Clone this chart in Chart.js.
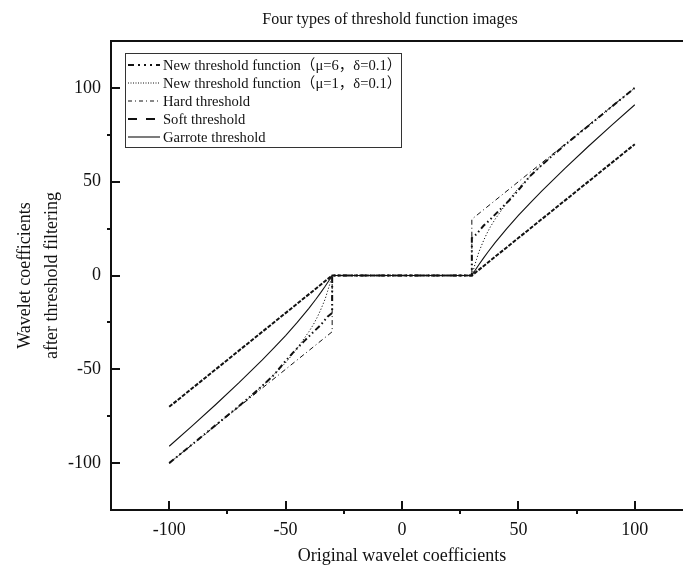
<!DOCTYPE html>
<html>
<head>
<meta charset="utf-8">
<script src="https://cdn.jsdelivr.net/npm/chart.js@4.4.1/dist/chart.umd.min.js"></script>
<style>
  html, body { margin: 0; padding: 0; background: #ffffff; overflow: hidden; }
  canvas { display: block; }
</style>
</head>
<body>
<canvas id="c" width="705" height="573"></canvas>
<script>
// ---- data ----
const chartTitle = 'Four types of threshold function images';
const xTitle = 'Original wavelet coefficients';
const yTitle = ['Wavelet coefficients', 'after threshold filtering'];
const majorTicks = [-100, -50, 0, 50, 100];
const minorTicks = [-75, -25, 25, 75];

const seriesLabels = [
  'New threshold function（μ=6，δ=0.1）',
  'New threshold function（μ=1，δ=0.1）',
  'Hard threshold',
  'Soft threshold',
  'Garrote threshold'
];

// New threshold function, mu = 6
const newMu6X = [-100, -90, -80, -70, -65, -60, -55, -50, -46, -42, -38, -35, -32, -30, -30, 30, 30, 32, 35, 38, 42, 46, 50, 55, 60, 65, 70, 80, 90, 100];
const newMu6Y = [-100, -89.9, -79.7, -69.6, -64.3, -58.8, -53, -45.5, -40, -35, -30, -26.5, -22, -20, 0, 0, 20, 22, 26.5, 30, 35, 40, 45.5, 53, 58.8, 64.3, 69.6, 79.7, 89.9, 100];

// New threshold function, mu = 1
const newMu1X = [-100, -90, -80, -70, -66, -62, -58, -54, -50, -47, -44, -42, -40, -38, -36.5, -35, -34, -33, -32, -31, -30.5, -30, 30, 30.5, 31, 32, 33, 34, 35, 36.5, 38, 40, 42, 44, 47, 50, 54, 58, 62, 66, 70, 80, 90, 100];
const newMu1Y = [-100, -90, -79.8, -69.6, -65.5, -61, -56.5, -51.5, -46.5, -42, -37, -33.5, -30, -26, -22.5, -18.5, -15.5, -12.5, -8.5, -4.5, -2, 0, 0, 2, 4.5, 8.5, 12.5, 15.5, 18.5, 22.5, 26, 30, 33.5, 37, 42, 46.5, 51.5, 56.5, 61, 65.5, 69.6, 79.8, 90, 100];

// Hard threshold
const hardX = [-100, -30, -30, 30, 30, 100];
const hardY = [-100, -30, 0, 0, 30, 100];

// Soft threshold
const softX = [-100, -30, 30, 100];
const softY = [-70, 0, 0, 70];

// Garrote threshold
const garroteX = [-100, -90, -80, -70, -60, -55, -50, -45, -40, -37, -35, -33, -31, -30, 30, 31, 33, 35, 37, 40, 45, 50, 55, 60, 70, 80, 90, 100];
const garroteY = [-91, -80, -68.75, -57.14, -45, -38.64, -32, -25, -17.5, -12.68, -9.29, -5.73, -1.97, 0, 0, 1.97, 5.73, 9.29, 12.68, 17.5, 25, 32, 38.64, 45, 57.14, 68.75, 80, 91];

function pts(xs, ys) { return xs.map((x, i) => ({ x: x, y: ys[i] })); }

const INK = '#111111';
const serif = "'Liberation Serif', 'Times New Roman', 'DejaVu Serif', 'Noto Sans CJK SC', serif";

const datasets = [
  { label: seriesLabels[0], data: pts(newMu6X, newMu6Y), borderWidth: 2, borderDash: [6, 3, 1.5, 3, 1.5, 3], legendDash: [6, 4, 2, 4, 2, 4, 2, 4] },
  { label: seriesLabels[1], data: pts(newMu1X, newMu1Y), borderWidth: 1, borderDash: [1.2, 2], legendDash: [1, 1.5] },
  { label: seriesLabels[2], data: pts(hardX, hardY), borderWidth: 1, borderDash: [5, 3, 1, 3], legendDash: [4, 3, 1, 3] },
  { label: seriesLabels[3], data: pts(softX, softY), borderWidth: 2, borderDash: [4, 1.5], legendDash: [9, 9] },
  { label: seriesLabels[4], data: pts(garroteX, garroteY), borderWidth: 1.1, borderDash: [], legendDash: [] }
].map(d => Object.assign({
  showLine: true, pointRadius: 0, pointHoverRadius: 0, borderColor: INK, backgroundColor: INK,
  fill: false, tension: 0, clip: false
}, d));

const framePlugin = {
  id: 'frameAndExtras',
  afterDraw(chart) {
    const ctx = chart.ctx;
    const a = chart.chartArea;
    const xs = chart.scales.x, ys = chart.scales.y;
    ctx.save();
    // frame
    ctx.strokeStyle = INK;
    ctx.lineWidth = 2;
    ctx.setLineDash([]);
    ctx.beginPath();
    ctx.moveTo(a.right + 5, a.top);
    ctx.lineTo(a.left, a.top);
    ctx.lineTo(a.left, a.bottom);
    ctx.lineTo(a.right + 5, a.bottom);
    ctx.stroke();
    // ticks
    ctx.lineWidth = 2;
    ctx.beginPath();
    majorTicks.forEach(v => {
      const px = Math.round(xs.getPixelForValue(v));
      ctx.moveTo(px, a.bottom); ctx.lineTo(px, a.bottom - 9);
      const py = Math.round(ys.getPixelForValue(v));
      ctx.moveTo(a.left, py); ctx.lineTo(a.left + 9, py);
    });
    minorTicks.forEach(v => {
      const px = Math.round(xs.getPixelForValue(v));
      ctx.moveTo(px, a.bottom); ctx.lineTo(px, a.bottom + 4);
      const py = Math.round(ys.getPixelForValue(v));
      ctx.moveTo(a.left, py); ctx.lineTo(a.left - 4, py);
    });
    ctx.stroke();

    // title
    ctx.fillStyle = INK;
    ctx.font = '16px ' + serif;
    ctx.textAlign = 'center';
    ctx.textBaseline = 'middle';
    ctx.fillText(chartTitle, 390, 20);

    // legend
    const lx = 125, ly = 53, lw = 276, lh = 94;
    ctx.lineWidth = 1;
    ctx.strokeStyle = '#333333';
    ctx.strokeRect(lx + 0.5, ly + 0.5, lw, lh);
    ctx.font = '14.6px ' + serif;
    ctx.textAlign = 'left';
    chart.data.datasets.forEach((d, i) => {
      const y = ly + 12 + i * 18;
      ctx.strokeStyle = INK;
      ctx.lineWidth = d.borderWidth;
      ctx.setLineDash(d.legendDash);
      ctx.beginPath();
      ctx.moveTo(lx + 3, y);
      ctx.lineTo(lx + 35, y);
      ctx.stroke();
      ctx.setLineDash([]);
      ctx.fillStyle = INK;
      ctx.fillText(d.label, lx + 38, y + 1);
    });
    ctx.restore();
  }
};

new Chart(document.getElementById('c'), {
  type: 'scatter',
  data: { datasets: datasets },
  options: {
    responsive: false,
    animation: false,
    devicePixelRatio: 1,
    layout: { padding: { top: 41, right: 12, left: 0, bottom: 0 } },
    plugins: { legend: { display: false }, title: { display: false }, tooltip: { enabled: false } },
    scales: {
      x: {
        type: 'linear', min: -125, max: 125,
        grid: { display: false, drawTicks: false }, border: { display: false },
        ticks: {
          stepSize: 25, autoSkip: false, maxRotation: 0, padding: 9,
          color: INK, font: { family: serif, size: 18 },
          callback: v => (majorTicks.includes(v) ? String(v) : '')
        },
        title: { display: true, text: xTitle, color: INK, font: { family: serif, size: 18 }, padding: { top: 0, bottom: 6 } },
        afterFit: s => { s.height = 63; }
      },
      y: {
        type: 'linear', min: -125, max: 125,
        grid: { display: false, drawTicks: false }, border: { display: false },
        ticks: {
          stepSize: 25, autoSkip: false, padding: 10,
          color: INK, font: { family: serif, size: 18 },
          callback: v => (majorTicks.includes(v) ? String(v) : '')
        },
        title: { display: true, text: yTitle, color: INK, font: { family: serif, size: 18, lineHeight: 1.5 }, padding: { top: 12, bottom: 0 } },
        afterFit: s => { s.width = 111; }
      }
    }
  },
  plugins: [framePlugin]
});
</script>
</body>
</html>
